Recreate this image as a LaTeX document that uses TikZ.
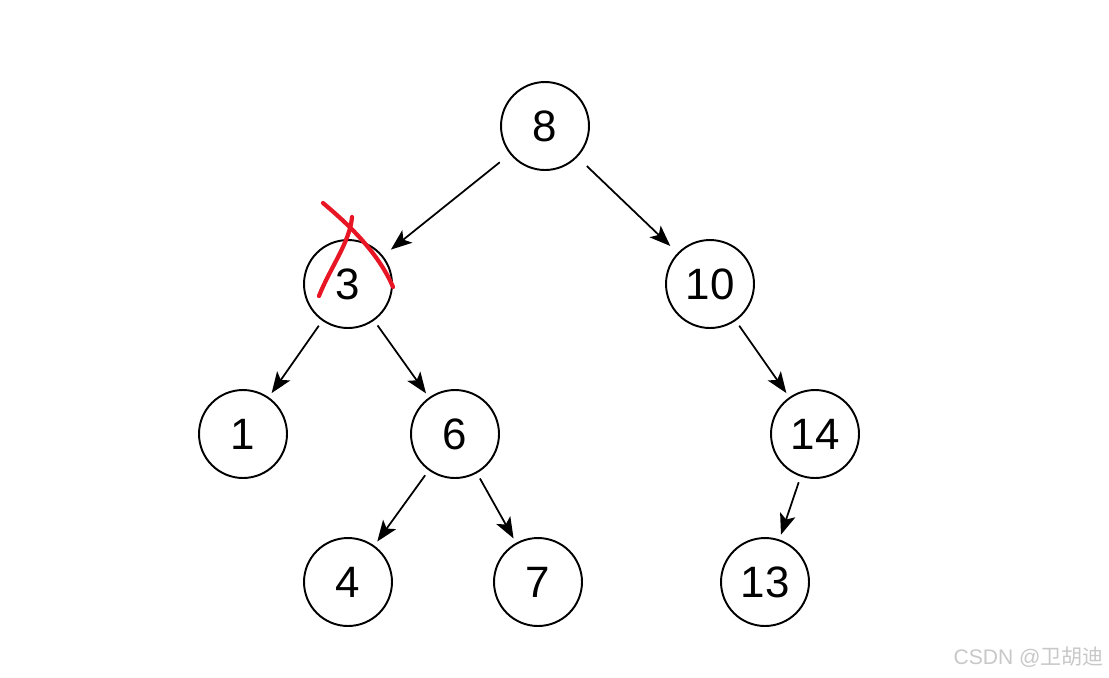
\documentclass[tikz,border=0pt]{standalone}
\usepackage{fontspec}
\setmainfont{Liberation Sans}
\newfontfamily\cjkfont{Noto Sans CJK SC}
\usepackage{tikz}
\usetikzlibrary{positioning,arrows.meta}
\definecolor{MarkRed}{RGB}{232,22,36}
\definecolor{MarkGray}{RGB}{200,200,200}

\begin{document}
\begin{tikzpicture}[
    x=0.02cm, y=-0.02cm,
    treenode/.style={circle, draw, line width=1.1pt, minimum size=1.76cm, inner sep=0pt, font=\fontsize{25}{30}\selectfont},
    line/.style={draw, line width=1pt, -{Stealth[length=0.42cm,width=0.32cm,inset=0.1cm]}, shorten <=0.12cm, shorten >=0.1cm},
    cross/.style={draw=MarkRed, line width=2.4pt, line cap=round}
]
\useasboundingbox (0,0) rectangle (1109,677);
% Place nodes
\node [treenode] (n8) at (545,126) {8};
\node [treenode] (n3) at (348,284) {3};
\node [treenode] (n10) at (710,284) {10};
\node [treenode] (n1) at (243,434) {1};
\node [treenode] (n6) at (455,434) {6};
\node [treenode] (n14) at (815,434) {14};
\node [treenode] (n4) at (348,582) {4};
\node [treenode] (n7) at (538,582) {7};
\node [treenode] (n13) at (765,582) {13};

% Draw edges
\draw [line, shorten <=0.26cm, shorten >=0.2cm] (n8) -- (n3);
\draw [line, shorten <=0.26cm, shorten >=0.2cm] (n8) -- (n10);
\draw [line] (n3) -- (n1);
\draw [line] (n3) -- (n6);
\draw [line] (n10) -- (n14);
\draw [line] (n6) -- (n4);
\draw [line] (n6) -- (n7);
\draw [line] (n14) -- (n13);

% Red cross over 3
\draw [cross] (323,203) .. controls (348,224) and (378,252) .. (393,287);
\draw [cross] (352,217) .. controls (350,242) and (330,268) .. (319,296);

% Watermark
\node [text=MarkGray, font=\fontsize{12}{14}\selectfont, anchor=east] (mark) at (1110,657) {CSDN @{\cjkfont 卫胡迪}};
\end{tikzpicture}
\end{document}
